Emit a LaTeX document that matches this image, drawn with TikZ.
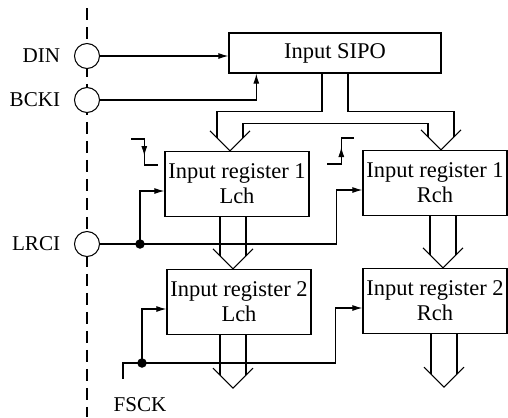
\documentclass[tikz,border=0pt]{standalone}
\usepackage{fontspec}
\setmainfont{Liberation Serif}
\usetikzlibrary{calc,arrows.meta}

\begin{document}
\begin{tikzpicture}[x=0.02cm,y=-0.02cm,line width=0.6pt,
  regbox/.style={draw,line width=0.8pt,minimum width=2.88cm,minimum height=1.3cm,
    align=center,inner sep=1pt,font=\fontsize{12.8}{14.2}\selectfont},
  porta/.style={circle,draw,fill=white,minimum size=0.5cm,inner sep=0pt},
  sinal/.style={-{Latex[length=2mm,width=1.2mm]}},
  ponto/.style={circle,fill,minimum size=0.19cm,inner sep=0pt},
  rotulo/.style={font=\fontsize{12}{14}\selectfont}]
\useasboundingbox (0,0) rectangle (508,417);
% Linha tracejada
\draw[dash pattern=on 0.24cm off 0.14cm] (87,8) -- (87,417);
% Blocos
\node[regbox,minimum width=4.24cm,minimum height=0.8cm] (sipo) at (335,53) {Input SIPO};
\node[regbox] (regAL) at (237,184) {Input register 1\\Lch};
\node[regbox] (regAR) at (435,183) {Input register 1\\Rch};
\node[regbox] (regBL) at (239,302) {Input register 2\\Lch};
\node[regbox] (regBR) at (435,301) {Input register 2\\Rch};
% Entradas
\node[porta,label={[rotulo,label distance=0.15cm]left:DIN}] (din) at (87,56) {};
\node[porta,label={[rotulo,label distance=0.15cm]left:BCKI}] (bcki) at (87,100) {};
\node[porta,label={[rotulo,label distance=0.15cm]left:LRCI}] (lrci) at (87,244) {};
\node[rotulo] (fsck) at (140,405) {FSCK};
\node[ponto] (jL) at (140,244) {};
\node[ponto] (jB) at (142,363) {};
% Pontas dos barramentos
\coordinate (tAL) at ($(regAL.north)+(-7,0)$);
\coordinate (tAR) at ($(regAR.north)+(6,0)$);
\coordinate (tBL) at ($(regBL.north)+(-6,0)$);
\coordinate (tBR) at ($(regBR.north)+(8,0)$);
\coordinate (oL) at ($(regBL.south)+(-6,53)$);
\coordinate (oR) at ($(regBR.south)+(9,53)$);
\foreach \t in {tAL,tAR,tBL,tBR,oL,oR}
  \draw (\t) ++(-20,-20) -- (\t) -- ++(20,-20);
% Barramento do SIPO
\draw ($(sipo.south)+(-13,0)$) -- ++(0,38) -| ($(tAL)+(-13,-13)$);
\draw ($(sipo.south)+(13,0)$) -- ++(0,38) -| ($(tAR)+(13,-13)$);
\draw ($(tAL)+(13,-13)$) -- ++(0,-14) -| ($(tAR)+(-13,-13)$);
\foreach \src/\t in {regAL/tBL,regAR/tBR,regBL/oL,regBR/oR}
  \foreach \d in {-13,13}
    \draw ($(\t)+(\d,-13)$) coordinate (p) -- (p |- \src.south);
% Sinais de dados e relogio
\draw[sinal] (din) -- (din -| sipo.west);
\coordinate (sipoclk) at ($(sipo.south west)+(28,0)$);
\draw[sinal] (bcki) -| (sipoclk);
\draw (lrci) -- (jL.center);
\draw[sinal] (jL.center) |- ($(regAL.west)+(0,7)$);
\coordinate (bendR) at ($(regAR.west)+(-26,7)$);
\draw[sinal] (jL.center) -| (bendR) -- ($(regAR.west)+(0,7)$);
\coordinate (fsckin) at ($(fsck.north)+(-17,-13)$);
\draw (fsckin) |- (jB.center);
\draw[sinal] (jB.center) |- ($(regBL.west)+(0,7)$);
\coordinate (bendB) at ($(regBR.west)+(-27,7)$);
\draw[sinal] (jB.center) -| (bendB) -- ($(regBR.west)+(0,7)$);
% Bordas de disparo
\draw ($(regAL.west)+(-33,-45)$) -- ++(13,0) coordinate (fe) -- ++(0,26) -- ++(14,0);
\draw[sinal] (fe) -- ++(0,17);
\draw ($(regAR.west)+(-35,-19)$) -- ++(14,0) coordinate (re) -- ++(0,-26) -- ++(13,0);
\draw[sinal] (re) -- ++(0,-17);
\end{tikzpicture}
\end{document}
